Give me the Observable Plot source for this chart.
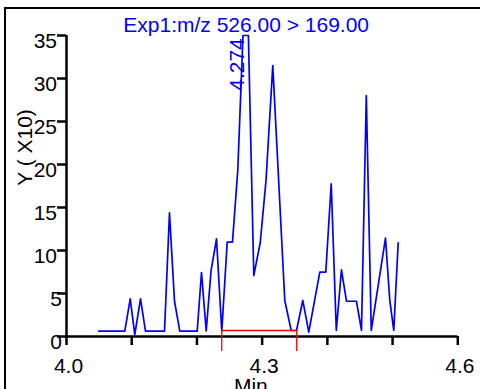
<!DOCTYPE html>
<html><head><meta charset="utf-8">
<script src="https://cdn.jsdelivr.net/npm/d3@7"></script>
<script src="https://cdn.jsdelivr.net/npm/@observablehq/plot@0.6"></script>
<style>
html,body{margin:0;padding:0;background:#fff;overflow:hidden}
#wrap{position:relative;width:480px;height:389px;overflow:hidden}
#border{position:absolute;left:4px;top:7px;width:600px;height:600px;border-top:2px solid #000;border-left:2px solid #000}
#wrap svg{position:absolute;left:0;top:0;overflow:visible}
</style></head><body><div id="wrap"><div id="border"></div></div>
<script>
// Retention time (min)
const times = [4.0495,4.0894,4.0977,4.1047,4.1135,4.1211,4.1503,4.1579,4.1656,4.1737,
  4.2004,4.2070,4.2142,4.2216,4.2300,4.2381,4.2464,4.2545,4.2626,4.2706,
  4.2789,4.2872,4.2971,4.3059,4.3163,4.3347,4.3445,4.3527,4.3623,4.3715,
  4.3884,4.3976,4.4059,4.4137,4.4216,4.4293,4.4446,4.4523,4.4597,4.4673,
  4.4891,4.4957,4.5018,4.5086];
// Intensity (x10)
const intensities = [0.62,0.62,4.38,0.23,4.38,0.62,0.62,14.38,4.10,0.62,
  0.62,7.44,0.64,7.62,11.36,0.58,10.97,10.97,19.3,35,
  35,7.09,10.93,18.14,31.5,4.19,0.70,0.70,4.19,0.50,
  7.48,7.48,17.76,0.70,7.76,4.10,4.10,0.70,28.02,0.70,
  11.45,4.19,0.70,10.90];
const yTicks = [0,5,10,15,20,25,30,35];
const xTicks = [4.0,4.1,4.2,4.3,4.4,4.5,4.6];
const xLabels = [4.0,4.3,4.6];
const titleText = ["Exp1:m/z 526.00 > 169.00"];
const yLabel = ["Y ( X10)"];
const xLabel = ["Min"];
const peakTimes = [4.274];
const peakLabels = ["4.274"];
const integStart = [4.238];
const integEnd = [4.353];
const integBase = 0.7;
const integDrop = -1.74;

const data = times.map((t, i) => ({t, v: intensities[i]}));
const integ = [{x1: integStart[0], x2: integEnd[0]}];
const blue = "#0000ff";

const chart = Plot.plot({
  width: 480, height: 389,
  marginLeft: 66, marginRight: 22.7, marginTop: 35, marginBottom: 53,
  style: {fontFamily: "'Liberation Sans', Arial, sans-serif", fontSize: "21px", background: "transparent", color: "#000"},
  x: {domain: [4.0, 4.6]},
  y: {domain: [0, 35]},
  marks: [
    Plot.axisY({ticks: yTicks, tickSize: 9, fill: "none", strokeWidth: 2.5, label: null}),
    Plot.axisX({ticks: xTicks, tickSize: 9, fill: "none", strokeWidth: 2.5, label: null}),
    Plot.ruleX([4.0], {y1: 0, y2: 35, stroke: "#000", strokeWidth: 2.5}),
    Plot.ruleY([0], {x1: 4.0, x2: 4.6, stroke: "#000", strokeWidth: 2.5}),
    Plot.text(yTicks, {filter: d => d >= 10, y: d => d, text: d => String(d), frameAnchor: "left", textAnchor: "end", lineAnchor: "bottom", dx: -9.5, dy: 12.5, fontSize: 21}),
    Plot.text(yTicks, {filter: d => d < 10, y: d => d, text: d => String(d), frameAnchor: "left", textAnchor: "end", lineAnchor: "bottom", dx: -4.5, dy: 12.5, fontSize: 21}),
    Plot.text(xLabels, {x: d => d, text: d => d3.format(".1f")(d), frameAnchor: "bottom", lineAnchor: "bottom", dx: 2, dy: 36.7, fontSize: 21}),
    Plot.text(yLabel, {text: d => d, frameAnchor: "left", rotate: -90, lineAnchor: "bottom", textAnchor: "middle", dx: -34.3, dy: -38.5, fontSize: 21}),
    Plot.text(xLabel, {text: d => d, frameAnchor: "bottom", lineAnchor: "bottom", dx: -11.3, dy: 56, fontSize: 21}),
    Plot.text(titleText, {text: d => d, frameAnchor: "top", lineAnchor: "bottom", dx: -16, dy: -4, fill: blue, fontSize: 21}),
    Plot.line(data, {x: "t", y: "v", stroke: blue, strokeWidth: 1.7}),
    Plot.ruleY(integ, {y: () => integBase, x1: "x1", x2: "x2", stroke: "#ff0000", strokeWidth: 1.3}),
    Plot.ruleX(integStart.concat(integEnd), {x: d => d, y1: integBase, y2: integDrop, stroke: "#ff0000", strokeWidth: 1.3}),
    Plot.text(peakTimes, {x: d => d, text: (d, i) => peakLabels[i], frameAnchor: "top", rotate: -90, lineAnchor: "bottom", textAnchor: "middle", dx: -1.3, dy: 29, fill: blue, fontSize: 21})
  ]
});
document.getElementById("wrap").appendChild(chart);
</script>
</body></html>
